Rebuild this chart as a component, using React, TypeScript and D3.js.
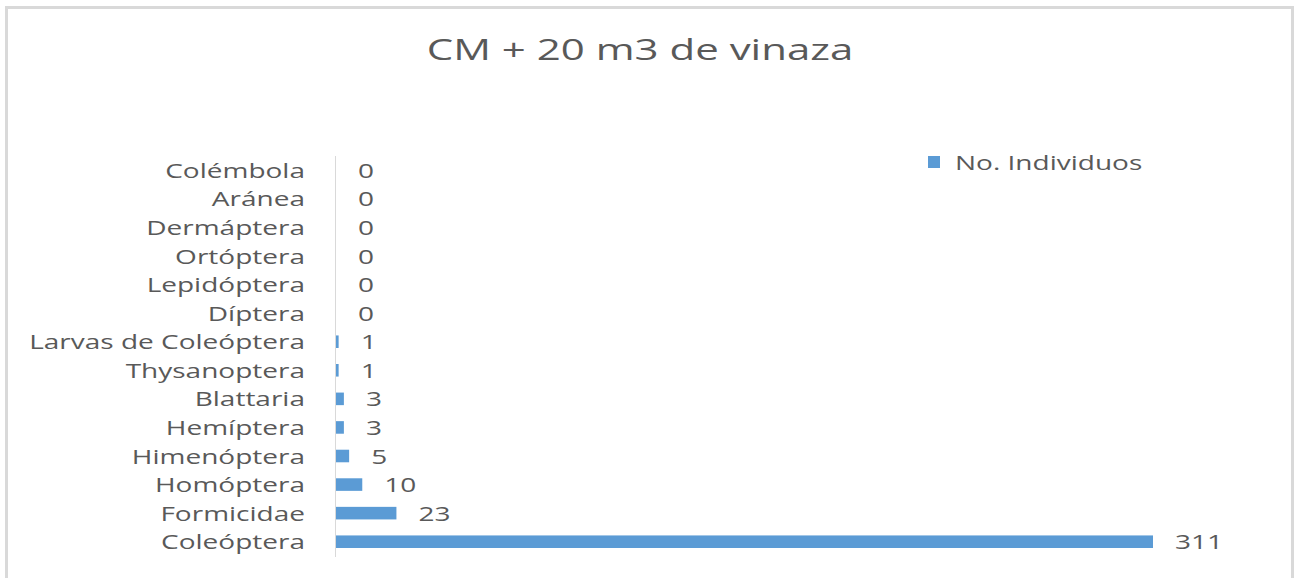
import React from "react";
import * as d3 from "d3";

const categories = [
  "Colémbola",
  "Aránea",
  "Dermáptera",
  "Ortóptera",
  "Lepidóptera",
  "Díptera",
  "Larvas de Coleóptera",
  "Thysanoptera",
  "Blattaria",
  "Hemíptera",
  "Himenóptera",
  "Homóptera",
  "Formicidae",
  "Coleóptera",
];
const values = [0, 0, 0, 0, 0, 0, 1, 1, 3, 3, 5, 10, 23, 311];
const seriesName = "No. Individuos";
const title = "CM + 20 m3 de vinaza";

const W = 1300;
const H = 578;
const SX = 1.4;
const FONT = "'Open Sans', sans-serif";
const TEXT = "#595959";
const BAR = "#5b9bd5";

export default function App() {
  const x = d3.scaleLinear().domain([0, 311]).range([336, 1153]);
  const y = d3
    .scaleBand<string>()
    .domain(categories)
    .range([156, 556])
    .paddingInner(0.56)
    .paddingOuter(0.28);
  const bw = y.bandwidth();

  return (
    <svg
      width={W}
      height={H}
      style={{ position: "absolute", left: 0, top: 0, display: "block", background: "#fff" }}
      fontFamily={FONT}
    >
      <rect x={6.5} y={7.5} width={1286} height={620} fill="#fff" stroke="#d9d9d9" strokeWidth={3} />
      <text
        transform={`translate(640,60) scale(${SX},1)`}
        textAnchor="middle"
        fontSize={30}
        fill={TEXT}
      >
        {title}
      </text>
      <line x1={335.5} x2={335.5} y1={156} y2={557} stroke="#d9d9d9" strokeWidth={1} />
      {categories.map((c, i) => {
        const cy = (y(c) as number) + bw / 2;
        return (
          <g key={c}>
            <rect x={x(0)} y={y(c)} width={x(values[i]) - x(0)} height={bw} fill={BAR} />
            <text
              transform={`translate(305,${cy + 7.5}) scale(${SX},1)`}
              textAnchor="end"
              fontSize={20}
              fill={TEXT}
            >
              {c}
            </text>
            <text
              transform={`translate(${x(values[i]) + 22},${cy + 7.5}) scale(${SX},1)`}
              textAnchor="start"
              fontSize={20}
              fill={TEXT}
            >
              {values[i]}
            </text>
          </g>
        );
      })}
      <rect x={928} y={156} width={12} height={12} fill={BAR} />
      <text transform={`translate(955,169.5) scale(${SX},1)`} fontSize={20} fill={TEXT}>
        {seriesName}
      </text>
    </svg>
  );
}
